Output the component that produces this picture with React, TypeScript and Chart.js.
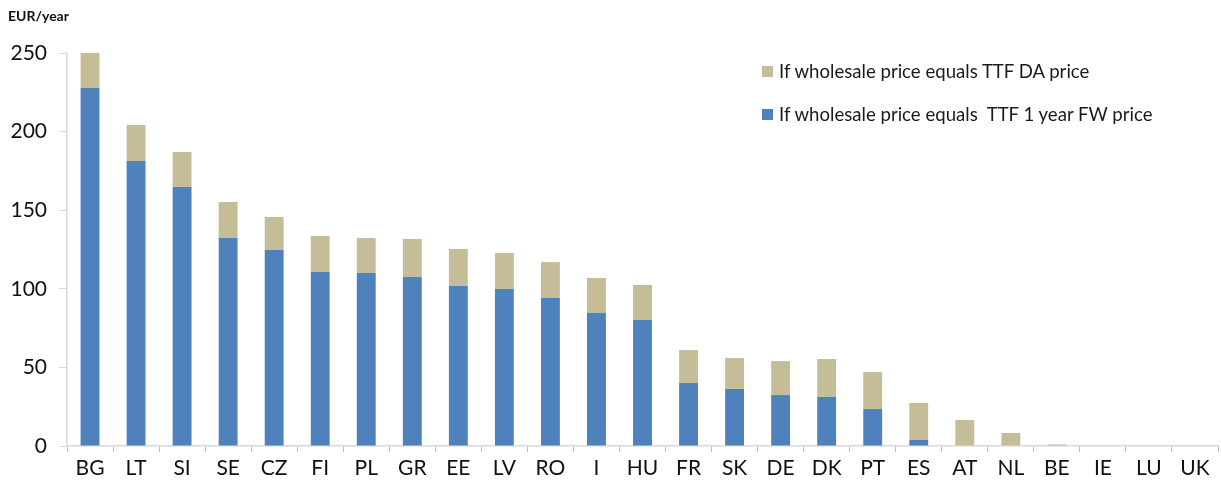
import React, { useEffect, useRef } from "react";
import { Chart, registerables } from "chart.js";

Chart.register(...registerables);

const countries = ["BG", "LT", "SI", "SE", "CZ", "FI", "PL", "GR", "EE", "LV", "RO", "I", "HU", "FR", "SK", "DE", "DK", "PT", "ES", "AT", "NL", "BE", "IE", "LU", "UK"];
const fwPrice = [227.7, 181.3, 164.8, 132.3, 124.7, 110.7, 110, 107.5, 101.8, 99.9, 94.1, 84.6, 80.2, 40, 36.3, 32.4, 31.2, 23.5, 3.8, 0, 0, 0, 0, 0, 0];
const daExtra = [22.3, 22.9, 22.2, 22.9, 21.0, 22.9, 22.3, 24.2, 23.5, 22.9, 22.9, 22.3, 22.2, 21.0, 19.7, 21.6, 24.1, 23.5, 23.6, 16.5, 8.3, 1.0, 0, 0, 0];
const yTicks = [0, 50, 100, 150, 200, 250];

const FW_LABEL = "If wholesale price equals  TTF 1 year FW price";
const DA_LABEL = "If wholesale price equals TTF DA price";
const BLUE = "#4F81BD";
const TAN = "#C4BD97";
const FONT = "Lato, 'Open Sans', sans-serif";

export default function App() {
  const ref = useRef<HTMLCanvasElement | null>(null);

  useEffect(() => {
    document.body.style.margin = "0";
    const ctx = ref.current!;
    const chart = new Chart(ctx, {
      type: "bar",
      data: {
        labels: countries,
        datasets: [
          { label: FW_LABEL, data: fwPrice, backgroundColor: BLUE, barPercentage: 0.41, categoryPercentage: 1 },
          { label: DA_LABEL, data: daExtra, backgroundColor: TAN, barPercentage: 0.41, categoryPercentage: 1 },
        ],
      },
      options: {
        animation: false,
        responsive: false,
        maintainAspectRatio: false,
        layout: { padding: { top: 53, right: 3, bottom: 0, left: 0 } },
        plugins: { legend: { display: false }, tooltip: { enabled: false }, title: { display: false } },
        scales: {
          x: {
            stacked: true,
            grid: { display: true, drawOnChartArea: false, color: "#BFBFBF", tickLength: 6, offset: true },
            border: { display: true, color: "#D9D9D9", width: 1.5 },
            ticks: { color: "#111", font: { family: FONT, size: 21 }, padding: 4, maxRotation: 0, autoSkip: false },
            afterFit: (s: any) => { s.height = 48; },
          },
          y: {
            stacked: true,
            min: 0,
            max: 250,
            afterBuildTicks: (s: any) => { s.ticks = yTicks.map((v) => ({ value: v })); },
            grid: { display: true, drawOnChartArea: false, color: "#D9D9D9", tickLength: 8 },
            border: { display: true, color: "#D9D9D9", width: 1.5 },
            ticks: { color: "#111", font: { family: FONT, size: 21 }, padding: 12 },
            afterFit: (s: any) => { s.width = 67; },
          },
        },
      },
    });
    return () => chart.destroy();
  }, []);

  const legendItem = (color: string, text: string, top: number) => (
    <div style={{ position: "absolute", left: 762, top, display: "flex", alignItems: "center", fontFamily: FONT, fontSize: 18.6, color: "#1a1a1a", whiteSpace: "pre" }}>
      <span style={{ display: "inline-block", width: 11, height: 11, background: color, marginRight: 6 }} />
      <span>{text}</span>
    </div>
  );

  return (
    <div style={{ position: "fixed", left: 0, top: 0, width: 1221, height: 494, background: "#fff" }}>
      <canvas ref={ref} width={1221} height={494} style={{ width: 1221, height: 494, display: "block" }} />
      <div style={{ position: "absolute", left: 8, top: 7, fontFamily: FONT, fontSize: 14, fontWeight: 700, color: "#111" }}>EUR/year</div>
      {legendItem(TAN, DA_LABEL, 60)}
      {legendItem(BLUE, FW_LABEL, 103)}
    </div>
  );
}
